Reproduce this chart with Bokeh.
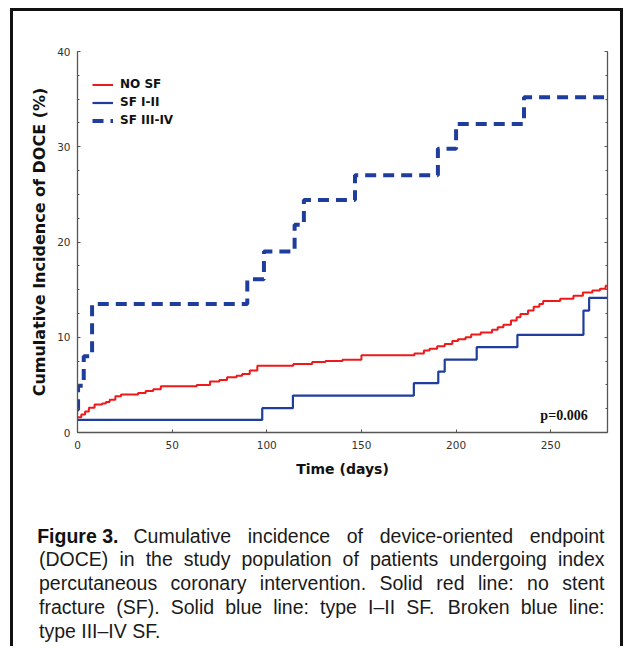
from bokeh.plotting import figure
from bokeh.models import (Range1d, LinearAxis, Legend, LegendItem, Label,
                          SingleIntervalTicker, CustomJSTickFormatter, Spacer)
from bokeh.layouts import column, row
from bokeh.core.properties import value
from bokeh.embed import file_html
from bokeh.resources import INLINE

# ---------------- data ----------------
nosf_t = [0, 2, 4, 6, 9, 13, 15, 17, 20, 23, 32, 36, 40, 44, 63, 70, 75, 79, 84, 87,
          91, 95, 114, 124, 131, 140, 150, 178, 183, 186, 190, 194, 198, 201, 205,
          208, 213, 219, 222, 225, 229, 232, 234, 238, 241, 244, 246, 255, 262, 267,
          272, 276, 279]
nosf_v = [1.6, 1.9, 2.2, 2.6, 2.95, 3.05, 3.2, 3.45, 3.8, 4.0, 4.15, 4.35, 4.55, 4.85,
          5.0, 5.35, 5.5, 5.8, 5.95, 6.15, 6.5, 7.0, 7.2, 7.4, 7.5, 7.65, 8.1, 8.3, 8.6,
          8.8, 9.05, 9.3, 9.6, 9.8, 10.0, 10.3, 10.5, 10.8, 11.05, 11.3, 11.75, 12.1,
          12.45, 12.8, 13.2, 13.5, 13.8, 14.05, 14.35, 14.7, 14.9, 15.1, 15.4]

sf12_t = [0, 97.6, 113.8, 177.7, 190.6, 194, 210.9, 232.4, 267.3, 270.3]
sf12_v = [1.33, 2.55, 3.88, 5.18, 6.40, 7.66, 8.96, 10.25, 12.8, 14.14]

sf34_t = [0, 0.3, 3.3, 7.7, 89.7, 98.5, 114.7, 119.6, 146.6, 190.4, 200, 235.9]
sf34_v = [2.4, 4.9, 8.0, 13.5, 16.1, 19.0, 21.8, 24.4, 27.0, 29.8, 32.4, 35.2]

series_names = ["NO SF", "SF I-II", "SF III-IV"]
x_max = 280
y_max = 40
p_value_text = "p=0.006"

caption_bold = "Figure 3."
caption_lines = [
    "Cumulative incidence of device-oriented endpoint",
    "(DOCE) in the study population of patients undergoing index",
    "percutaneous coronary intervention. Solid red line: no stent",
    "fracture (SF). Solid blue line: type I\u2013II SF. Broken blue line:",
    "type III\u2013IV SF.",
]

# ---------------- page geometry (screen px) ----------------
FRAME_X0 = 10      # left edge of outer frame line
BORDER = 3
INNER_W = 607      # inner width between frame lines
CHART_H = 489
CAP_H = 146
TOP_PAD = 8

INK = "#111111"

def bar(w, h):
    return Spacer(width=w, height=h, styles={"background-color": INK})

# ---------------- chart ----------------
p = figure(width=INNER_W, height=CHART_H, x_range=Range1d(0, x_max),
           y_range=Range1d(0, y_max), output_backend="svg", toolbar_location=None,
           min_border_left=64, min_border_right=13, min_border_top=40,
           min_border_bottom=CHART_H - 40 - 381)
p.frame_align = False
p.xgrid.visible = False
p.ygrid.visible = False
p.outline_line_color = None
p.background_fill_color = "white"
p.border_fill_color = "white"

RED = "#f01818"
BLUE = "#1f3d9c"

def ext(t, v):
    return list(t) + [x_max], list(v) + [v[-1]]

x1, y1 = ext(nosf_t, nosf_v)
x2, y2 = ext(sf12_t, sf12_v)
x3, y3 = ext(sf34_t, sf34_v)
r3 = p.step(x3, y3, mode="after", line_color=BLUE, line_width=4, line_dash="11 7")
r2 = p.step(x2, y2, mode="after", line_color=BLUE, line_width=2.2)
r1 = p.step(x1, y1, mode="after", line_color=RED, line_width=2)

AX = "#555555"
def style_axis(ax, minor=True):
    ax.axis_line_color = AX
    ax.axis_line_width = 1.3
    ax.major_tick_line_color = AX
    ax.minor_tick_line_color = AX
    ax.major_tick_in = 3
    ax.major_tick_out = 0
    ax.minor_tick_in = 2 if minor else 0
    ax.minor_tick_out = 0
    ax.major_label_text_font = "DejaVu Sans"
    ax.major_label_text_font_size = "10.5px"
    ax.major_label_text_color = "#333333"
    ax.axis_label_text_font = "DejaVu Sans"
    ax.axis_label_text_font_style = "bold"
    ax.axis_label_text_color = INK

xa = p.xaxis[0]
xa.ticker = SingleIntervalTicker(interval=50, num_minor_ticks=0)
style_axis(xa, minor=False)
xa.axis_label = "Time (days)"
xa.axis_label_text_font_size = "14px"
xa.major_label_standoff = 8
xa.axis_label_standoff = 9

ya = p.yaxis[0]
ya.ticker = SingleIntervalTicker(interval=10, num_minor_ticks=4)
style_axis(ya)
ya.axis_label = "Cumulative Incidence of DOCE (%)"
ya.axis_label_text_font_size = "16px"
ya.major_label_standoff = 7
ya.axis_label_standoff = 5

ra = LinearAxis(ticker=SingleIntervalTicker(interval=10, num_minor_ticks=4),
                formatter=CustomJSTickFormatter(code="return ''"))
style_axis(ra)
ra.major_label_standoff = 0
p.add_layout(ra, "right")

legend = Legend(items=[LegendItem(label=series_names[0], renderers=[r1]),
                       LegendItem(label=series_names[1], renderers=[r2]),
                       LegendItem(label=series_names[2], renderers=[r3])],
                location=(15, 303.5), orientation="vertical",
                glyph_width=21, glyph_height=17, label_height=17,
                label_standoff=7, spacing=1, padding=0, margin=0,
                border_line_alpha=0, background_fill_alpha=0,
                label_text_font="DejaVu Sans", label_text_font_style="bold",
                label_text_font_size="12px", label_text_color=INK)
p.add_layout(legend)

p.add_layout(Label(x=269.5, y=1.8, text=p_value_text, text_align="right",
                   text_baseline="alphabetic", text_font="Liberation Serif",
                   text_font_style="bold", text_font_size="14px",
                   text_color=INK))

# ---------------- caption (justified via Helvetica/Arial metrics) ----------------
HW = {' ': 278, '(': 333, ')': 333, '-': 333, '.': 278, ':': 278, '\u2013': 556,
      'A': 667, 'B': 667, 'C': 722, 'D': 722, 'E': 667, 'F': 611, 'G': 778, 'H': 722,
      'I': 278, 'J': 500, 'K': 667, 'L': 556, 'M': 833, 'N': 722, 'O': 778, 'P': 667,
      'Q': 778, 'R': 722, 'S': 667, 'T': 611, 'U': 722, 'V': 667, 'W': 944, 'X': 667,
      'Y': 667, 'Z': 611,
      'a': 556, 'b': 556, 'c': 500, 'd': 556, 'e': 556, 'f': 278, 'g': 556, 'h': 556,
      'i': 222, 'j': 222, 'k': 500, 'l': 222, 'm': 833, 'n': 556, 'o': 556, 'p': 556,
      'q': 556, 'r': 333, 's': 500, 't': 278, 'u': 556, 'v': 500, 'w': 722, 'x': 500,
      'y': 500, 'z': 500}
FS = 19.5
def wwidth(s):
    return sum(HW.get(c, 556) for c in s) * FS / 1000.0

cap_x0 = FRAME_X0 + BORDER
cap_y0 = TOP_PAD + BORDER + CHART_H
cap = figure(width=INNER_W, height=CAP_H, output_backend="svg", toolbar_location=None,
             x_axis_type=None, y_axis_type=None, min_border=0,
             x_range=Range1d(cap_x0, cap_x0 + INNER_W),
             y_range=Range1d(cap_y0 + CAP_H, cap_y0),
             background_fill_color="white", border_fill_color="white",
             outline_line_color=None)
cap.frame_align = False
cap.grid.visible = False

left_px, right_px, first_left_px = 38.5, 604, 133
baselines = [535.0 + 23.9 * i for i in range(len(caption_lines))]

wx, wy, wt = [], [], []
for i, line in enumerate(caption_lines):
    lft = first_left_px if i == 0 else left_px
    if i == len(caption_lines) - 1:
        wx.append(lft); wy.append(baselines[i]); wt.append(line)
        continue
    words = line.split(" ")
    total = sum(wwidth(w) for w in words)
    gap = (right_px - lft - total) / (len(words) - 1)
    xx = lft
    for w in words:
        wx.append(xx); wy.append(baselines[i]); wt.append(w)
        xx += wwidth(w) + gap

cap.text(x=wx, y=wy, text=wt, text_font=value("Liberation Sans"),
         text_font_size=value(f"{FS}px"), text_align="left",
         text_baseline="alphabetic", text_color="#1a1a1a")
cap.text(x=[36.7], y=[baselines[0]], text=[caption_bold],
         text_font=value("Liberation Sans"), text_font_style="bold",
         text_font_size=value(f"{FS}px"), text_align="left",
         text_baseline="alphabetic", text_color="#111111")

# ---------------- layout with outer frame ----------------
inner_h = CHART_H + CAP_H
layout = column(
    Spacer(width=FRAME_X0 + 2 * BORDER + INNER_W, height=TOP_PAD),
    row(Spacer(width=FRAME_X0, height=BORDER), bar(INNER_W + 2 * BORDER, BORDER)),
    row(Spacer(width=FRAME_X0, height=inner_h), bar(BORDER, inner_h),
        column(p, cap), bar(BORDER, inner_h)),
)

open("out.html", "w").write(file_html(layout, INLINE))
